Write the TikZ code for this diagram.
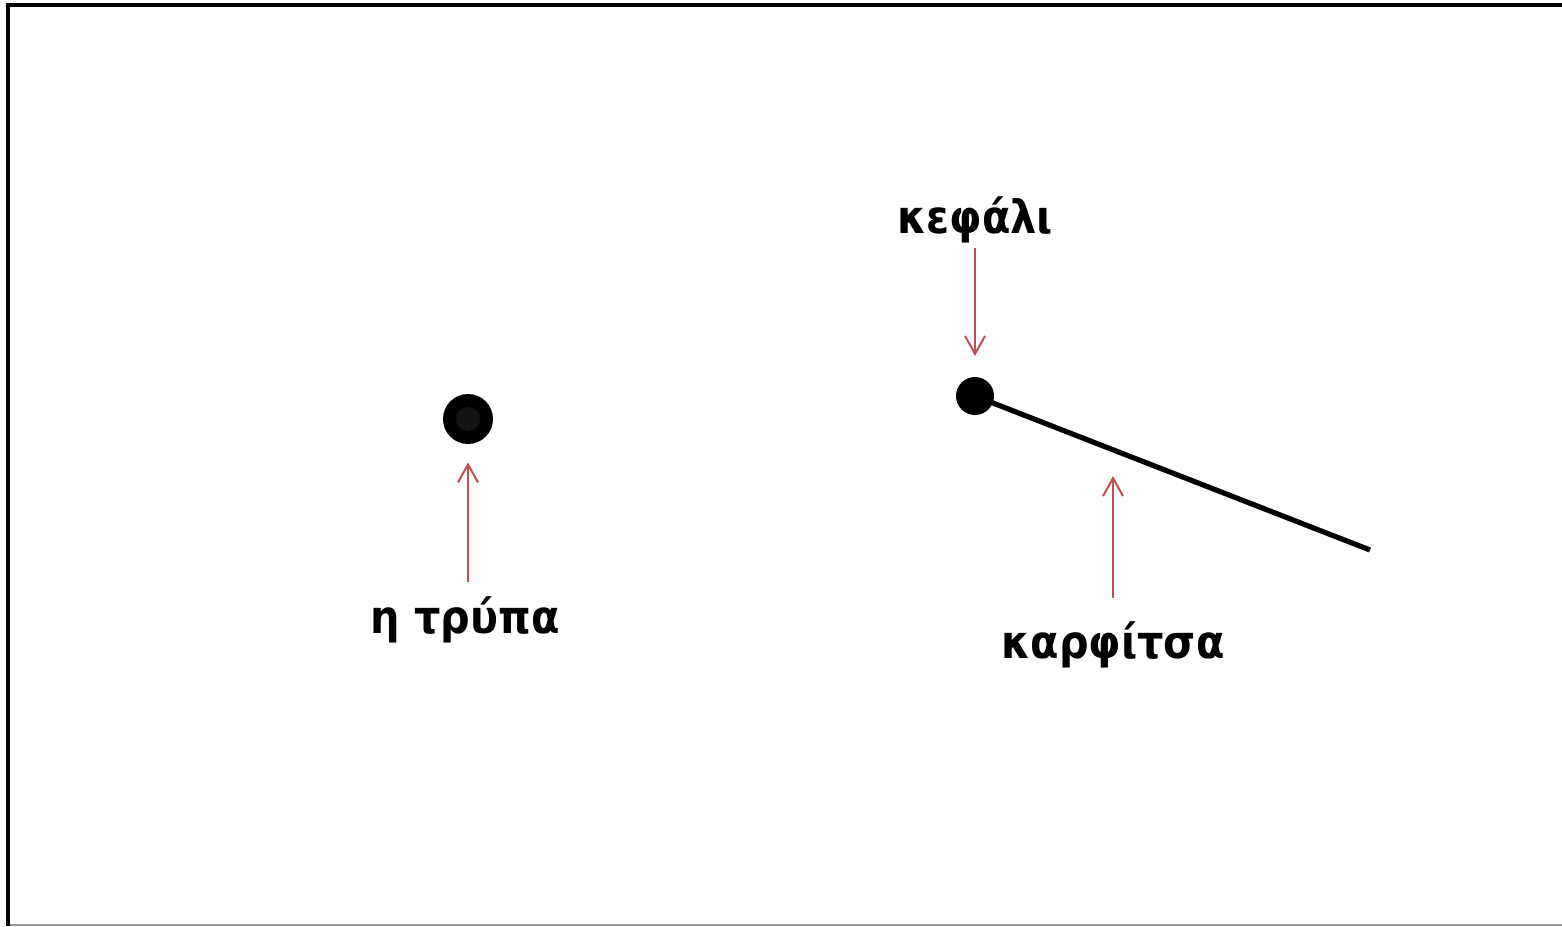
\documentclass[tikz,border=0pt]{standalone}
\usepackage{fontspec}
\setmainfont{DejaVu Sans}
\newfontfamily\labelfont{DejaVu Sans Condensed}
\usetikzlibrary{arrows.meta, positioning}

\definecolor{pointred}{RGB}{192,80,77}

\begin{document}
\begin{tikzpicture}[
    x=0.5pt, y=-0.5pt,
    label/.style={
        font=\labelfont\bfseries\fontsize{23}{28}\selectfont,
        inner sep=2pt
    },
    pointer/.style={-{Straight Barb[length=9pt,width=10pt]}, pointred, line width=1pt},
    dot/.style={circle, fill=black, inner sep=0pt}
]
\useasboundingbox (0,0) rectangle (1562,926);

% frame
\draw[black!40, line width=0.8pt] (8,925) -- (1562,925);
\draw[line width=1.6pt] (8,926) -- (8,5) -- (1562,5);

% hole
\node[dot, minimum size=25pt] (hole) at (468,419) {};
\node[circle, fill=black!92, inner sep=0pt, minimum size=12pt] (holein) at (hole) {};
\node[label] (trupa) at (465,620) {η τρύπα};

% pin
\coordinate (tip) at (1370,550);
\node[dot, minimum size=19pt] (head) at (975,396) {};
\draw[line width=2.6pt] (head.center) -- (tip);
\coordinate (shaft) at (1113,450);
\node[label] (kefali) at (975,220) {κεφάλι};
\node[label] (karfitsa) at (1113,645) {καρφίτσα};

% arrows
\draw[pointer, shorten <=5pt, shorten >=9pt] (hole.south |- trupa.north) -- (hole.south);
\draw[pointer, shorten >=20pt] (kefali.south) -- (head.center);
\draw[pointer, shorten <=9.5pt, shorten >=13pt] (karfitsa.north) -- (shaft);

\end{tikzpicture}
\end{document}
